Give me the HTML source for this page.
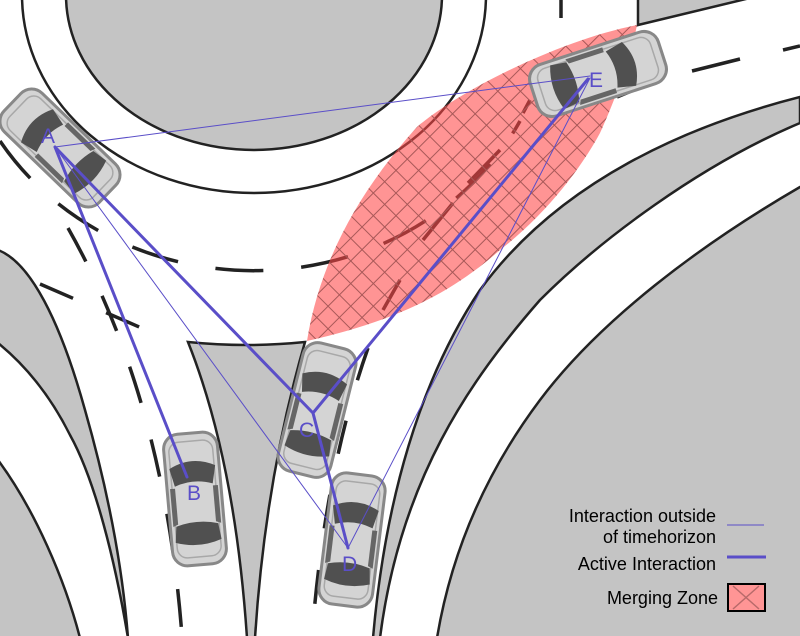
<!DOCTYPE html>
<html><head><meta charset="utf-8"><style>
html,body{margin:0;padding:0;background:#fff;}
svg{display:block;}
text{font-family:"Liberation Sans",sans-serif;}
</style></head><body>
<svg width="800" height="636" viewBox="0 0 800 636" xmlns="http://www.w3.org/2000/svg">
<defs>
<pattern id="hatch" patternUnits="userSpaceOnUse" width="16" height="16" patternTransform="rotate(45)">
<path d="M0,0 L16,0 M0,0 L0,16" stroke="#a85858" stroke-width="2" fill="none"/>
</pattern>
<g id="car">
<rect x="-27" y="-66" width="54" height="132" rx="15" fill="#d4d4d4" stroke="#888" stroke-width="3"/>
<rect x="-22" y="-58" width="44" height="116" rx="10" fill="none" stroke="#a8a8a8" stroke-width="1.5"/>
<path d="M-23,-32 Q0,-44 23,-32 L19,-14 Q0,-21 -19,-14 Z" fill="#505050"/>
<path d="M-21,26 Q0,20 21,26 L23,42 Q0,50 -23,42 Z" fill="#505050"/>
<path d="M-24,-12 L-19,-12 L-19,24 L-24,26 Z" fill="#666"/>
<path d="M24,-12 L19,-12 L19,24 L24,26 Z" fill="#666"/>
</g>
</defs>

<g fill="#c4c4c4" stroke="#222" stroke-width="2.5">
<ellipse cx="254" cy="-5" rx="188" ry="155"/>
<path d="M638,-2 L638,25 L750,-2 Z"/>
<path d="M800,97 C690,125 560,180 480,290 C420,380 385,500 373,638 L380,638 C400,480 470,380 540,300 C600,240 700,165 800,123 Z"/>
<path d="M800,187 C700,245 600,320 540,400 C480,480 450,560 437,638 L802,638 L802,187 Z"/>
<path d="M188,342 Q247,348 305,342 Q265,480 255,638 L247,638 Q235,460 188,342 Z"/>
<path d="M-2,250 C30,262 60,320 85,410 C105,480 122,560 128,638 C115,560 95,480 70,435 C50,395 25,365 -2,343 Z"/>
<path d="M-2,460 C35,510 65,580 80,638 L-2,638 Z"/>
</g>
<ellipse cx="254" cy="-5" rx="232" ry="198" fill="none" stroke="#222" stroke-width="2.5"/>

<g fill="none" stroke="#222" stroke-width="3.5">
<path d="M0,141 A299,275 0 0 0 520,121" stroke-dasharray="48,38"/>
<path d="M40,284 Q100,310 160,336" stroke-dasharray="36,36"/>
<path d="M68,228 C120,320 168,450 182,636" stroke-dasharray="38,38"/>
<path d="M368,348 Q325,470 312,636" stroke-dasharray="34,42"/>
<path d="M692,71 L740,59 M783,50 L800,46 M561,0 L561,18 M617,97 L653,82"/>
<path d="M383,310 L400,280 M423,240 L453,203 M468,183 L500,150 M523,113 L530,100"/>
</g>

<path d="M307,341 C320,260 360,190 417,127 C460,90 560,40 637,25 C630,60 615,100 600,133 C580,170 545,215 500,250 C460,285 410,318 307,341 Z" fill="rgba(255,70,70,0.58)"/>
<path d="M307,341 C320,260 360,190 417,127 C460,90 560,40 637,25 C630,60 615,100 600,133 C580,170 545,215 500,250 C460,285 410,318 307,341 Z" fill="url(#hatch)"/>

<use href="#car" transform="translate(60,148) rotate(-46)"/>
<use href="#car" transform="translate(195,499) rotate(-5)"/>
<use href="#car" transform="translate(317,410) rotate(14)"/>
<use href="#car" transform="translate(352,540) rotate(7)"/>
<use href="#car" transform="translate(598,74) rotate(72) scale(1,1.02)"/>

<g stroke="#5a4ec8" fill="none" stroke-linecap="round">
<path d="M55,147 L590,76 M55,147 L348,548 M590,78 L348,548" stroke-width="1"/>
<path d="M55,147 L187,477 M55,147 L313,413 L588,79 M313,413 L348,548" stroke-width="3"/>
</g>
<g fill="#5a4ec8" font-size="21">
<text x="41" y="143">A</text>
<text x="187" y="500">B</text>
<text x="299" y="437">C</text>
<text x="342" y="571">D</text>
<text x="589" y="87">E</text>
</g>

<g font-size="18" fill="#000" text-anchor="end">
<text x="716" y="522">Interaction outside</text>
<text x="716" y="543">of timehorizon</text>
<text x="716" y="570">Active Interaction</text>
<text x="718" y="604">Merging Zone</text>
</g>
<line x1="727" y1="525" x2="764" y2="525" stroke="#5a4ec8" stroke-width="1"/>
<line x1="727" y1="557" x2="766" y2="557" stroke="#5a4ec8" stroke-width="3"/>
<rect x="728" y="584" width="37" height="27" fill="#ff9595" stroke="#000" stroke-width="2"/>
<path d="M733,586 L759,609 M759,586 L733,609" stroke="#b86a6a" stroke-width="1.5"/>
</svg>
</body></html>
